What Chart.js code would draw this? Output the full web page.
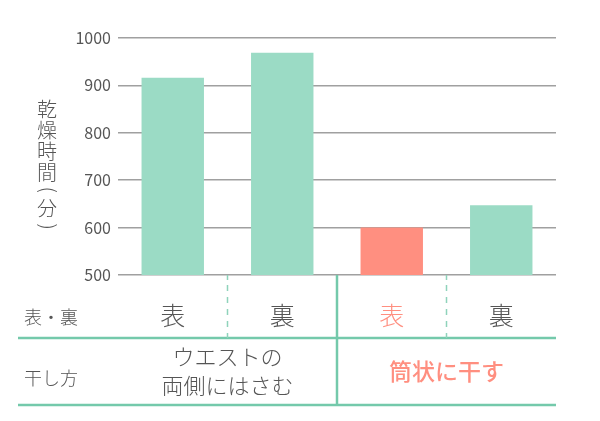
<!DOCTYPE html>
<html>
<head>
<meta charset="utf-8">
<script src="https://cdn.jsdelivr.net/npm/chart.js@4"></script>
<style>
    html, body { margin: 0; padding: 0; background: #fff; }
    canvas { display: block; }
</style>
</head>
<body>
<canvas id="dryChart" width="600" height="421"></canvas>
<script>
// Data
const categories = ["表", "裏", "表", "裏"];
const dryingMinutes = [916, 969, 600, 647];
const yTicks = [500, 600, 700, 800, 900, 1000];
const yTitleChars = ["乾", "燥", "時", "間", "(", "分", ")"];
const rowHeaders = ["表・裏", "干し方"];
const groupLabels = [["ウエストの", "両側にはさむ"], ["筒状に干す"]];
const groupSizes = [2, 2];
const highlightBar = 2;
const highlightGroup = 1;

// Colours
const green = "#9bdbc5";
const salmon = "#ff8f80";
const lineGreen = "#74c9ab";
const textGray = "#555555";
const fontFamily = "'Noto Sans CJK JP', 'Noto Sans', sans-serif";

// Draws the table under the bars and the stacked y title
const tablePlugin = {
    id: "table",
    afterDraw(chart) {
        const ctx = chart.ctx;
        const xs = chart.scales.x;
        const area = chart.chartArea;
        const base = area.bottom;
        const row1 = base + 63;
        const row2 = base + 130;
        const tableLeft = 18;

        const mid = i => (xs.getPixelForValue(i) + xs.getPixelForValue(i + 1)) / 2;

        ctx.save();

        // horizontal rules
        ctx.strokeStyle = lineGreen;
        ctx.lineWidth = 2.5;
        [row1, row2].forEach(yy => {
            ctx.beginPath();
            ctx.moveTo(tableLeft, yy);
            ctx.lineTo(area.right, yy);
            ctx.stroke();
        });

        // group separators
        let idx = 0;
        for (let g = 0; g < groupSizes.length - 1; ++g) {
            idx += groupSizes[g];
            const gx = mid(idx - 1);
            ctx.beginPath();
            ctx.moveTo(gx, base);
            ctx.lineTo(gx, row2);
            ctx.stroke();
        }

        // dashed separators inside groups
        ctx.strokeStyle = "#8fd3bb";
        ctx.lineWidth = 1.5;
        idx = 0;
        for (let g = 0; g < groupSizes.length; ++g) {
            for (let k = 0; k < groupSizes[g] - 1; ++k) {
                const dx = mid(idx + k);
                ctx.setLineDash([]);
                ctx.beginPath();
                ctx.moveTo(dx, base);
                ctx.lineTo(dx, base + 5);
                ctx.stroke();
                ctx.setLineDash([6, 6]);
                ctx.beginPath();
                ctx.moveTo(dx, base + 10);
                ctx.lineTo(dx, row1);
                ctx.stroke();
            }
            idx += groupSizes[g];
        }
        ctx.setLineDash([]);

        // category labels
        ctx.textAlign = "center";
        ctx.textBaseline = "middle";
        ctx.font = "300 25px " + fontFamily;
        categories.forEach((c, i) => {
            ctx.fillStyle = i === highlightBar ? salmon : textGray;
            ctx.fillText(c, xs.getPixelForValue(i), base + 40);
        });

        // row headers
        ctx.textAlign = "left";
        ctx.font = "300 18px " + fontFamily;
        ctx.fillStyle = textGray;
        ctx.fillText(rowHeaders[0], 24, base + 42);
        ctx.fillText(rowHeaders[1], 24, base + 103);

        // group labels
        ctx.textAlign = "center";
        idx = 0;
        groupLabels.forEach((lines, g) => {
            const first = xs.getPixelForValue(idx);
            const last = xs.getPixelForValue(idx + groupSizes[g] - 1);
            const cx = (first + last) / 2;
            const cy = (row1 + row2) / 2;
            if (g === highlightGroup) {
                ctx.fillStyle = salmon;
                ctx.font = "500 23px " + fontFamily;
            } else {
                ctx.fillStyle = textGray;
                ctx.font = "300 22px " + fontFamily;
            }
            const lh = 29;
            lines.forEach((t, j) => {
                ctx.fillText(t, cx, cy + (j - (lines.length - 1) / 2) * lh);
            });
            idx += groupSizes[g];
        });

        // y title, written vertically; brackets turned a quarter
        ctx.fillStyle = textGray;
        ctx.font = "300 20px " + fontFamily;
        const titleX = 47;
        let ty = 109;
        yTitleChars.forEach(ch => {
            const paren = ch === "(" || ch === ")";
            if (paren) {
                const m = ctx.measureText(ch);
                const cv = (m.actualBoundingBoxDescent - m.actualBoundingBoxAscent) / 2;
                const ch2 = (m.actualBoundingBoxRight - m.actualBoundingBoxLeft) / 2;
                ty -= 3;
                ctx.save();
                ctx.translate(titleX + cv, ty - ch2);
                ctx.rotate(Math.PI / 2);
                ctx.fillText(ch, 0, 0);
                ctx.restore();
                ty += 18;
            } else {
                ctx.fillText(ch, titleX, ty);
                ty += 21;
            }
        });

        ctx.restore();
    }
};

new Chart(document.getElementById("dryChart"), {
    type: "bar",
    data: {
        labels: categories,
        datasets: [{
            data: dryingMinutes,
            backgroundColor: dryingMinutes.map((v, i) => i === highlightBar ? salmon : green),
            borderWidth: 0,
            categoryPercentage: 1,
            barPercentage: 0.57
        }]
    },
    options: {
        responsive: false,
        animation: false,
        devicePixelRatio: 1,
        layout: {
            padding: { top: 38, right: 44, bottom: 146, left: 0 }
        },
        plugins: {
            legend: { display: false },
            tooltip: { enabled: false }
        },
        scales: {
            x: {
                ticks: { display: false },
                grid: { display: false, drawTicks: false },
                border: { display: false }
            },
            y: {
                min: yTicks[0],
                max: yTicks[yTicks.length - 1],
                afterBuildTicks: scale => {
                    scale.ticks = yTicks.map(v => ({ value: v }));
                },
                afterFit: scale => { scale.width = 118; },
                ticks: {
                    color: textGray,
                    padding: 7,
                    font: { size: 16, family: fontFamily },
                    callback: v => String(v)
                },
                grid: {
                    color: "#a0a0a0",
                    lineWidth: 1.5,
                    drawTicks: false
                },
                border: { display: false }
            }
        }
    },
    plugins: [tablePlugin]
});
</script>
</body>
</html>
